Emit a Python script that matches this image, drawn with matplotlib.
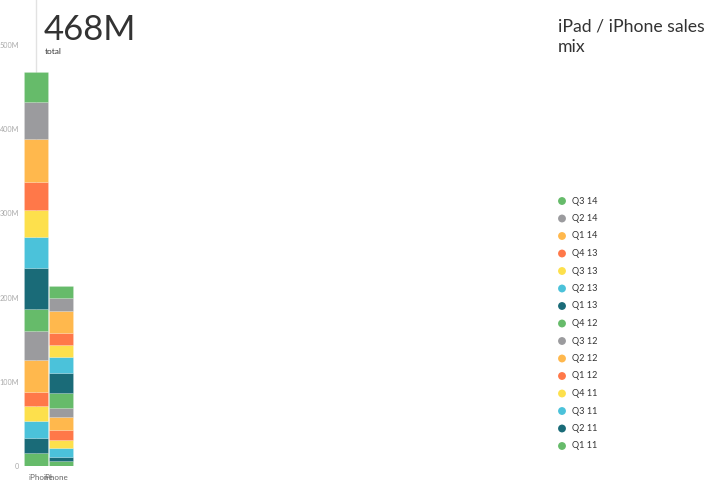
import matplotlib
matplotlib.use("Agg")
import matplotlib.pyplot as plt
import numpy as np

quarters = ["Q1 11", "Q2 11", "Q3 11", "Q4 11", "Q1 12", "Q2 12", "Q3 12", "Q4 12",
            "Q1 13", "Q2 13", "Q3 13", "Q4 13", "Q1 14", "Q2 14", "Q3 14"]
iphone = [15.1, 18.5, 20.2, 17.5, 16.9, 37.7, 34.4, 26.2, 48.3, 37.5, 31.7, 33.6, 50.8, 44.3, 35.6]
ipad = [5.9, 5.1, 10.0, 9.9, 11.9, 15.0, 11.4, 17.9, 23.0, 19.7, 13.9, 14.6, 25.8, 15.8, 14.2]
products = ["iPhone", "iPhone"]
yticks = [0, 100, 200, 300, 400, 500]
ytick_labels = ["0", "100M", "200M", "300M", "400M", "500M"]
total_label = "468M"
title_lines = ["iPad / iPhone sales", "mix"]

palette = ["#66bb6a", "#1a6b78", "#4bc2da", "#fde04c", "#ff7849", "#ffb84d", "#9b9b9e"]
colors = [palette[i % len(palette)] for i in range(len(quarters))]

plt.rcParams["font.family"] = ["Lato", "DejaVu Sans"]

W, H = 720, 488
fig = plt.figure(figsize=(W / 100, H / 100), dpi=100)
fig.patch.set_facecolor("white")

# main axes in pixel geometry
left_px, right_px = 23.7, 73.7
bottom_px = 466
ax = fig.add_axes([left_px / W, (H - bottom_px) / H, (right_px - left_px) / W, bottom_px / H])
ppm = 0.842  # pixels per million
ax.set_ylim(0, bottom_px / ppm)
ax.set_xlim(-0.5, 1.5)

series = [iphone, ipad]
for xi, vals in enumerate(series):
    bottoms = np.concatenate([[0], np.cumsum(vals)[:-1]])
    ax.bar([xi] * len(vals), vals, bottom=bottoms, width=0.97, color=colors,
           edgecolor=(1, 1, 1, 0.25), linewidth=0.4, zorder=2)

ax.axvline(0, color="#e2e2e2", linewidth=1, zorder=0)

for s in ax.spines.values():
    s.set_visible(False)
ax.set_yticks(yticks)
ax.set_yticklabels(ytick_labels, fontsize=5.2, color="#aaaaaa")
ax.tick_params(axis="y", length=0, pad=3.5)
ax.set_xticks([])
ax.set_facecolor("none")

# overlay for text
lax = fig.add_axes([0, 0, 1, 1])
lax.set_xlim(0, W)
lax.set_ylim(H, 0)
lax.axis("off")
lax.patch.set_alpha(0)

lax.text(44, 40, total_label, fontsize=25, color="#333333", ha="left", va="baseline")
lax.text(45, 54, "total", fontsize=6, color="#333333", ha="left", va="baseline")
for i, line in enumerate(title_lines):
    lax.text(558, 32 + i * 20.5, line, fontsize=12.7, color="#333333",
             ha="left", va="baseline")

# product labels
for xpix, lab in zip([41, 56], products):
    lax.text(xpix, 478, lab, fontsize=5.8, color="#666666", ha="center", va="center")

# legend
for i, q in enumerate(reversed(quarters)):
    col = colors[len(quarters) - 1 - i]
    y = 201 + i * 17.5
    lax.scatter([562], [y], s=32, color=col, edgecolors="none")
    lax.text(572, y, q, fontsize=6.6, color="#333333", ha="left", va="center")

fig.savefig("out.png", dpi=100, facecolor="white")
